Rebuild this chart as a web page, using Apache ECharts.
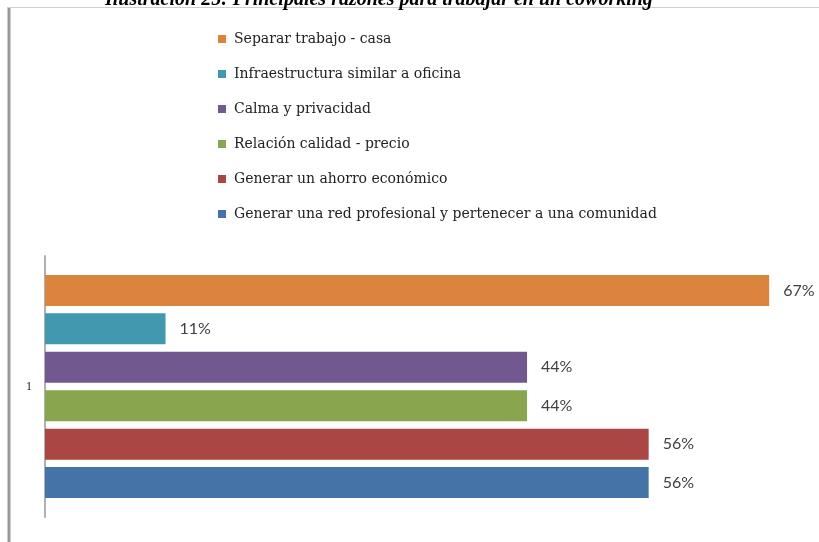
<!DOCTYPE html>
<html>
<head>
<meta charset="utf-8">
<script src="https://cdn.jsdelivr.net/npm/echarts@6/dist/echarts.min.js"></script>
<style>
  html, body { margin: 0; padding: 0; background: #fff; }
  #main { width: 819px; height: 542px; }
</style>
</head>
<body>
<div id="main"></div>
<script>
// data (percent)
const categories = ['1'];
const seriesNames = [
  'Separar trabajo - casa',
  'Infraestructura similar a oficina',
  'Calma y privacidad',
  'Relación calidad - precio',
  'Generar un ahorro económico',
  'Generar una red profesional y pertenecer a una comunidad'
];
const seriesValues = [66.7, 11.1, 44.4, 44.4, 55.6, 55.6];
const seriesColors = ['#DB843D', '#4198AF', '#71588F', '#89A54E', '#AA4643', '#4572A7'];

let series = seriesNames.map(function (name, i) {
  return {
    name: name,
    type: 'bar',
    data: [seriesValues[i]],
    barWidth: 31,
    barGap: '24%',
    itemStyle: { color: seriesColors[i] },
    label: {
      show: true,
      position: 'right',
      distance: 14,
      formatter: function (p) { return Math.round(p.value) + '%'; },
      fontFamily: 'Lato',
      fontSize: 16,
      color: '#404040'
    },
    animation: false
  };
});

let option = {
  backgroundColor: '#fff',
  title: {
    text: 'Ilustración 25: Principales razones para trabajar en un coworking',
    left: 100,
    top: -15,
    textStyle: {
      fontFamily: 'Liberation Serif',
      fontStyle: 'italic',
      fontWeight: 'bold',
      fontSize: 20,
      color: '#000'
    }
  },
  legend: {
    orient: 'vertical',
    left: 213,
    top: 27,
    itemWidth: 8,
    itemHeight: 8,
    itemGap: 21,
    icon: 'rect',
    data: seriesNames,
    textStyle: {
      fontFamily: 'DejaVu Serif',
      fontSize: 14,
      color: '#222',
      padding: [0, 0, 0, 3]
    }
  },
  grid: {
    left: 45,
    right: 14,
    top: 256,
    bottom: 25
  },
  xAxis: {
    type: 'value',
    min: 0,
    max: 70,
    show: false
  },
  yAxis: {
    type: 'category',
    data: categories,
    inverse: true,
    axisLine: { lineStyle: { color: '#b0b0b0', width: 2 } },
    axisTick: { show: false },
    axisLabel: {
      margin: 13,
      fontFamily: 'Liberation Serif',
      fontSize: 12,
      color: '#222'
    }
  },
  graphic: [
    { type: 'line', shape: { x1: 9, y1: 7, x2: 9, y2: 542 }, style: { stroke: '#9a9a9a', lineWidth: 3 } },
    { type: 'line', shape: { x1: 8, y1: 7.5, x2: 819, y2: 7.5 }, style: { stroke: '#cfcfcf', lineWidth: 1 } }
  ],
  series: series
};

let myChart = echarts.init(document.getElementById('main'));
myChart.setOption(option);
</script>
</body>
</html>
